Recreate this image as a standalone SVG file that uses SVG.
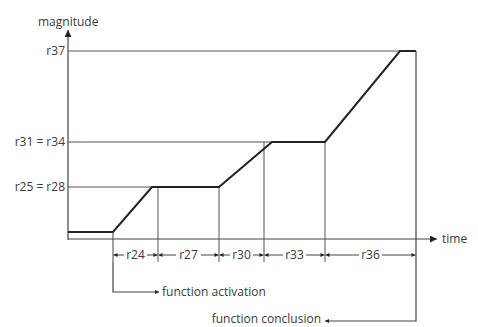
<svg xmlns="http://www.w3.org/2000/svg" width="478" height="327" viewBox="0 0 478 327">
<style>
text{font-family:"Open Sans","DejaVu Sans",sans-serif;font-size:12px;fill:#3a3a3a}
.ax{stroke:#444;stroke-width:1.2;fill:none}
.ref{stroke:#555;stroke-width:1;fill:none}
.prof{stroke:#222;stroke-width:2;fill:none;stroke-linejoin:miter}
.dim{stroke:#444;stroke-width:1;fill:none}
</style>
<defs>
<marker id="big" viewBox="0 0 10 10" refX="10" refY="5" markerUnits="userSpaceOnUse" markerWidth="10" markerHeight="7" orient="auto"><path d="M0,0L10,5L0,10z" fill="#222"/></marker>
<marker id="sm" viewBox="0 0 10 10" refX="10" refY="5" markerUnits="userSpaceOnUse" markerWidth="6" markerHeight="4" orient="auto"><path d="M0,0L10,5L0,10z" fill="#222"/></marker>
</defs>
<g id="labels">
<text x="38" y="26">magnitude</text>
<text x="442" y="243">time</text>
<text x="65" y="55" text-anchor="end">r37</text>
<text x="65" y="146" text-anchor="end">r31 = r34</text>
<text x="65" y="191" text-anchor="end">r25 = r28</text>
</g>
<g id="axes">
<line class="ax" x1="68" y1="240" x2="68" y2="30" marker-end="url(#big)"/>
<line class="ax" x1="68" y1="239" x2="437" y2="239" marker-end="url(#big)"/>
</g>
<g id="reference-lines">
<line class="ref" x1="68" y1="51" x2="416" y2="51"/>
<line class="ref" x1="68" y1="142" x2="272" y2="142"/>
<line class="ref" x1="68" y1="187" x2="152" y2="187"/>
<line class="ref" x1="158" y1="187" x2="158" y2="262"/>
<line class="ref" x1="219" y1="187" x2="219" y2="262"/>
<line class="ref" x1="264" y1="142" x2="264" y2="262"/>
<line class="ref" x1="325" y1="142" x2="325" y2="262"/>
</g>
<g id="profile">
<path class="prof" d="M68,232L113,232L152,187L219,187L272,142L325,142L400,51L416,51"/>
</g>
<g id="connectors">
<line class="dim" x1="113" y1="232" x2="113" y2="262"/>
<line class="dim" x1="124" y1="255" x2="113.5" y2="255" marker-end="url(#sm)"/>
<line class="dim" x1="147" y1="255" x2="157.5" y2="255" marker-end="url(#sm)"/>
<line class="dim" x1="176" y1="255" x2="158.5" y2="255" marker-end="url(#sm)"/>
<line class="dim" x1="201" y1="255" x2="218.5" y2="255" marker-end="url(#sm)"/>
<line class="dim" x1="230" y1="255" x2="219.5" y2="255" marker-end="url(#sm)"/>
<line class="dim" x1="253" y1="255" x2="263.5" y2="255" marker-end="url(#sm)"/>
<line class="dim" x1="283" y1="255" x2="264.5" y2="255" marker-end="url(#sm)"/>
<line class="dim" x1="306" y1="255" x2="324.5" y2="255" marker-end="url(#sm)"/>
<line class="dim" x1="359" y1="255" x2="325.5" y2="255" marker-end="url(#sm)"/>
<line class="dim" x1="382" y1="255" x2="415.5" y2="255" marker-end="url(#sm)"/>
<path class="ax" d="M113,262L113,292L159,292" marker-end="url(#sm)"/>
<path class="ax" d="M416,51L416,321L325,321" marker-end="url(#sm)"/>
</g>
<g id="dim-labels">
<text x="135.5" y="259" text-anchor="middle">r24</text>
<text x="188.5" y="259" text-anchor="middle">r27</text>
<text x="241.5" y="259" text-anchor="middle">r30</text>
<text x="294.5" y="259" text-anchor="middle">r33</text>
<text x="370.5" y="259" text-anchor="middle">r36</text>
</g>
<g id="events">
<text x="162" y="296">function activation</text>
<text x="321" y="323" text-anchor="end">function conclusion</text>
</g>
</svg>
